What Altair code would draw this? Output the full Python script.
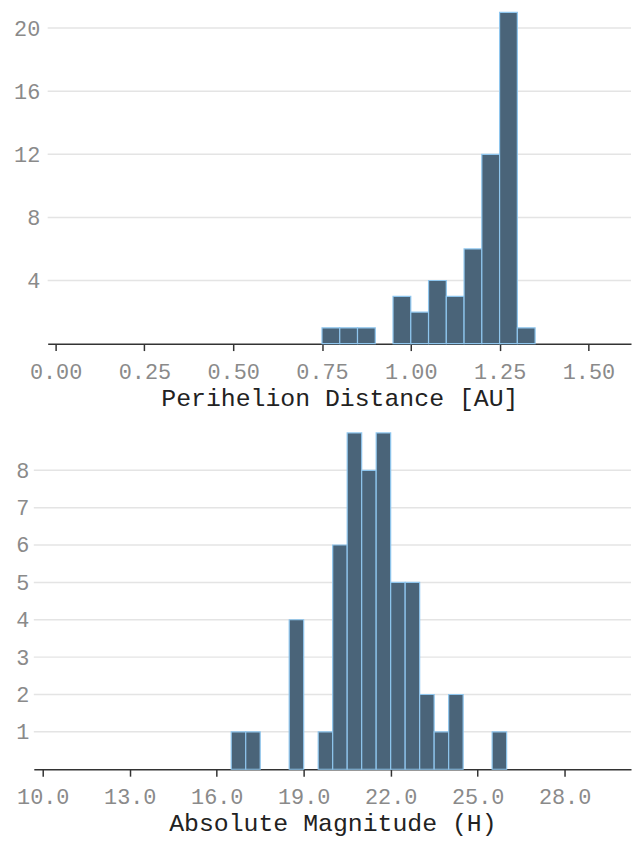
import altair as alt
import pandas as pd

# Perihelion distance histogram (bin width 0.05 AU)
q_bin_start = [0.75, 0.80, 0.85, 0.95, 1.00, 1.05, 1.10, 1.15, 1.20, 1.25, 1.30]
q_counts = [1, 1, 1, 3, 2, 4, 3, 6, 12, 21, 1]
q_width = 0.05
q_ticks = [0.0, 0.25, 0.5, 0.75, 1.0, 1.25, 1.5]
q_yticks = [4, 8, 12, 16, 20]

# Absolute magnitude histogram (bin width 0.5)
h_bin_start = [16.5, 17.0, 18.5, 19.5, 20.0, 20.5, 21.0, 21.5, 22.0, 22.5, 23.0, 23.5, 24.0, 25.5]
h_counts = [1, 1, 4, 1, 6, 9, 8, 9, 5, 5, 2, 1, 2, 1]
h_width = 0.5
h_ticks = [10.0, 13.0, 16.0, 19.0, 22.0, 25.0, 28.0]
h_yticks = [1, 2, 3, 4, 5, 6, 7, 8]

q_df = pd.DataFrame({"start": q_bin_start, "end": [s + q_width for s in q_bin_start], "count": q_counts})
h_df = pd.DataFrame({"start": h_bin_start, "end": [s + h_width for s in h_bin_start], "count": h_counts})

FONT = "Liberation Mono"
FILL = "#4a6479"
STROKE = "#8fc6ee"
GRID = "#e4e4e4"
LABEL = "#8a8a8a"


def hist(df, yticks, title, xdomain, xrange, xticks, xfmt, ydomain, w, h, ypad):
    xscale = alt.Scale(domain=xdomain, nice=False, zero=False)
    if xrange is not None:
        xscale = alt.Scale(domain=xdomain, range=xrange, nice=False, zero=False)
    yscale = alt.Scale(domain=ydomain, nice=False)

    grid = alt.Chart(pd.DataFrame({"tick": yticks})).mark_rule(
        color=GRID, strokeWidth=1.5
    ).encode(
        y=alt.Y("tick:Q", scale=yscale),
        x=alt.datum(xdomain[0], scale=xscale),
        x2=alt.datum(xdomain[1]),
    )

    bars = alt.Chart(df).mark_bar(fill=FILL, stroke=STROKE, strokeWidth=1.2).encode(
        x=alt.X("start:Q", scale=xscale,
                axis=alt.Axis(title=title, values=xticks, format=xfmt, grid=False,
                              domainColor="#333333", domainWidth=1.5,
                              tickColor="#333333", tickWidth=1.5, tickSize=7,
                              labelColor=LABEL, labelFont=FONT, labelFontSize=22,
                              labelPadding=11, labelFlush=False,
                              titleFont=FONT, titleFontSize=25, titleFontWeight="normal",
                              titleColor="#222222", titlePadding=3)),
        x2="end:Q",
        y=alt.Y("count:Q", scale=yscale,
                axis=alt.Axis(title=None, values=yticks, domain=False, ticks=False,
                              grid=False, labelColor=LABEL, labelFont=FONT,
                              labelFontSize=22, labelPadding=ypad)),
        y2=alt.datum(0),
    )
    return alt.layer(grid, bars).properties(width=w, height=h)


top = hist(q_df, q_yticks, "Perihelion Distance [AU]", [-0.0223, 1.62], [14, 602],
           q_ticks, ".2f", [0, 21], 602, 334, -6)
bottom = hist(h_df, h_yticks, "Absolute Magnitude (H)", [9.69, 30.29], None,
              h_ticks, ".1f", [0, 9], 602, 339, 5)

chart = alt.vconcat(top, bottom, spacing=22).properties(
    padding={"left": 5, "top": 0, "right": 0, "bottom": 0},
).configure_view(stroke=None)

chart.save("out.html", embed_options={"renderer": "svg", "actions": False})
